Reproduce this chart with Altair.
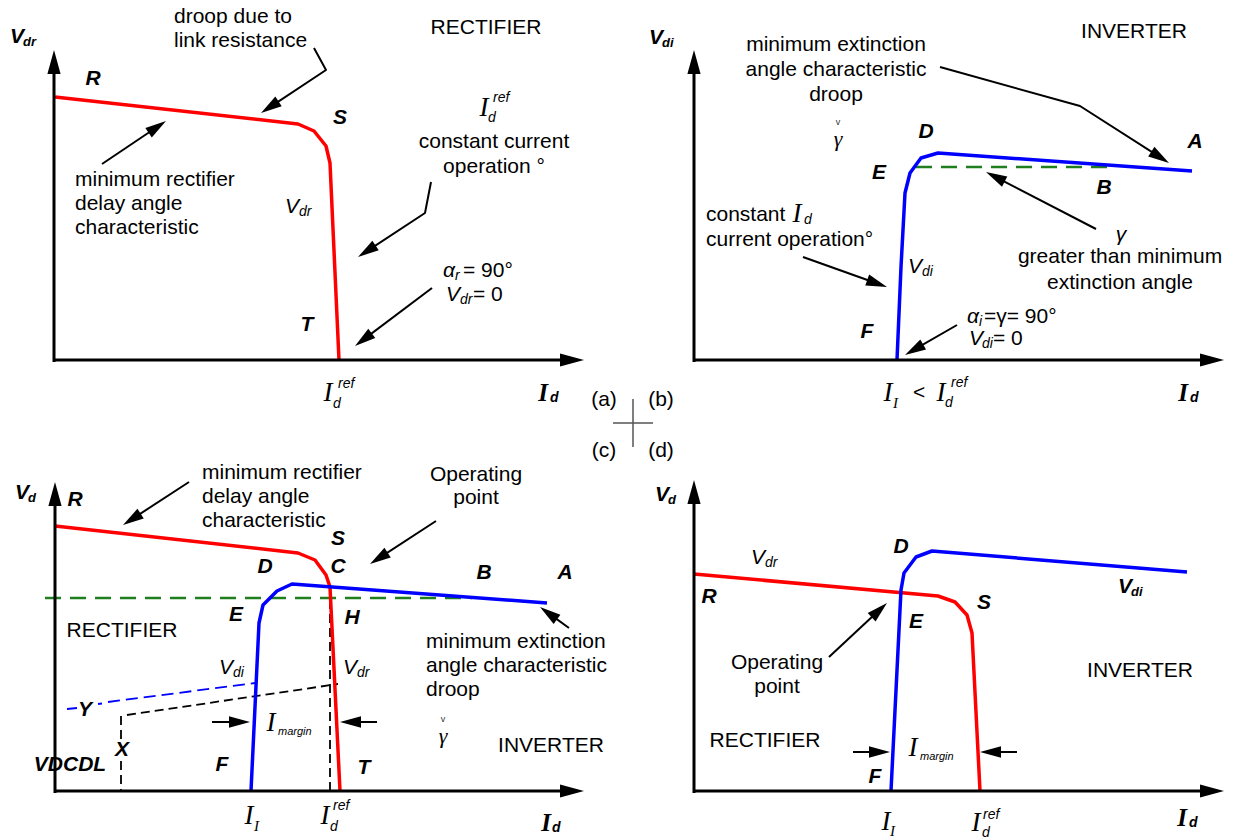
import math
import altair as alt
import pandas as pd

W, H = 1239, 839

# ---------------------------------------------------------------------------
# Characteristic curves, in figure coordinates (x to the right, y downward)
# ---------------------------------------------------------------------------
RECT_A = [(55, 97), (298, 124), (314, 131), (326, 146), (330, 163), (339, 360)]
INV_B = [(897, 360), (901, 267), (905, 193), (910, 173), (921, 158), (938, 153), (1192, 171)]
GAMMA_B = [(916, 167), (1110, 167)]

RECT_C = [(55, 526), (298, 553), (315, 560), (326, 575), (330, 587), (340, 791)]
INV_C = [(251, 791), (259, 623), (263, 605), (277, 591), (292, 584), (547, 603)]
GAMMA_C = [(45, 598), (472, 598)]

RECT_D = [(694, 574), (938, 596), (955, 602), (967, 615), (972, 633), (980, 791)]
INV_D = [(891, 791), (901, 590), (904, 573), (916, 557), (932, 551), (1187, 572)]

# construction lines of panel (c)
BLACK_DASH_C = [
    [(127, 715), (338, 684)],
    [(330, 600), (330, 791)],
    [(121, 716), (121, 739)],
    [(121, 761), (121, 791)],
]
BLUE_DASH_C = [[(108, 702), (255, 683)]]
BLUE_TICKS_C = [[(67, 709), (77, 708)], [(98, 704), (102, 703.5)]]

# axes (drawn as arrows, tip last)
AXES = [
    [(54, 362), (54, 50)], [(53, 360), (584, 360)],
    [(694, 362), (694, 50)], [(693, 360), (1224, 360)],
    [(55, 793), (55, 482)], [(54, 791), (584, 791)],
    [(694, 793), (694, 480)], [(693, 791), (1224, 791)],
]

# annotation pointers (tip last)
POINTERS = [
    [(314, 48), (326, 70), (261, 113)],
    [(102, 164), (166, 121)],
    [(431, 182), (425, 213), (358, 257)],
    [(432, 288), (355, 346)],
    [(940, 67), (1080, 106), (1169, 163)],
    [(803, 257), (887, 287)],
    [(1096, 229), (986, 172)],
    [(957, 325), (905, 355)],
    [(189, 482), (123, 525)],
    [(436, 521), (370, 564)],
    [(569, 628), (540, 607)],
    [(212, 722), (250, 722)],
    [(377, 722), (340, 722)],
    [(829, 657), (887, 603)],
    [(853, 752), (890, 752)],
    [(1017, 752), (980, 752)],
]

CROSS = [[(633, 399), (633, 447)], [(613, 423), (653, 423)]]

# ---------------------------------------------------------------------------
# Text
# ---------------------------------------------------------------------------
PLAIN_CENTER = [
    (486, 28, "RECTIFIER"),
    (494, 142, "constant current"),
    (494, 167, "operation °"),
    (1134, 32, "INVERTER"),
    (836, 45, "minimum extinction"),
    (836, 70, "angle characteristic"),
    (836, 95, "droop"),
    (1120, 257, "greater than minimum"),
    (1120, 283, "extinction angle"),
    (919, 393, "<"),
    (476, 475, "Operating"),
    (476, 498, "point"),
    (122, 631, "RECTIFIER"),
    (551, 746, "INVERTER"),
    (777, 663, "Operating"),
    (777, 687, "point"),
    (765, 741, "RECTIFIER"),
    (1140, 671, "INVERTER"),
    (604, 400, "(a)"),
    (661, 400, "(b)"),
    (604, 451, "(c)"),
    (661, 451, "(d)"),
]
PLAIN_LEFT = [
    (174, 17, "droop due to"),
    (174, 41, "link resistance"),
    (75, 180, "minimum rectifier"),
    (75, 204, "delay angle"),
    (75, 228, "characteristic"),
    (463, 271, "= 90°"),
    (473, 295, "= 0"),
    (706, 215, "constant"),
    (706, 240, "current operation°"),
    (984, 317, "=γ= 90°"),
    (993, 339, "= 0"),
    (202, 473, "minimum rectifier"),
    (202, 497, "delay angle"),
    (202, 521, "characteristic"),
    (426, 642, "minimum extinction"),
    (426, 666, "angle characteristic"),
    (426, 690, "droop"),
]
POINT_LETTERS = [
    (93, 79, "R"), (340, 118, "S"), (307, 325, "T"),
    (926, 132, "D"), (879, 173, "E"), (1195, 142, "A"), (1104, 188, "B"), (867, 332, "F"),
    (75, 500, "R"), (338, 539, "S"), (265, 567, "D"), (338, 567, "C"), (484, 573, "B"),
    (565, 573, "A"), (236, 615, "E"), (352, 618, "H"), (364, 768, "T"), (222, 765, "F"),
    (122, 750, "X"), (85, 710, "Y"), (70, 765, "VDCDL"),
    (901, 547, "D"), (709, 597, "R"), (984, 603, "S"), (916, 622, "E"), (875, 777, "F"),
]
# bold italic voltage symbols and their subscripts
BOLD_V = [(17, 37, "V"), (656, 38, "V"), (22, 493, "V"), (662, 495, "V"), (1125, 587, "V")]
BOLD_V_SUB = [(23, 42, "dr"), (662, 43, "di"), (28, 498, "d"), (668, 500, "d"), (1131, 592, "di")]
# italic voltage / angle symbols and their subscripts
ITALIC_SYM = [
    (292, 207, "V"), (453, 295, "V"), (449, 271, "α"),
    (915, 267, "V"), (976, 339, "V"), (973, 317, "α"),
    (226, 668, "V"), (350, 668, "V"), (758, 558, "V"),
    (1121, 235, "γ"),
]
ITALIC_SUB = [
    (299, 212, "dr"), (460, 300, "dr"), (455, 276, "r"),
    (922, 272, "di"), (982, 344, "di"), (979, 322, "i"),
    (233, 673, "di"), (357, 673, "dr"), (765, 563, "dr"),
]
# current symbols
SERIF_I = [
    (328, 393), (484, 108), (888, 393), (941, 393), (797, 214),
    (249, 816), (325, 816), (271, 723),
    (886, 822), (976, 823), (913, 748),
]
SUP_REF = [(338, 384), (493, 98), (951, 383), (333, 806), (983, 815)]
SUB_D = [(333, 404), (488, 118), (945, 403), (804, 220), (330, 827), (982, 833)]
SUB_I = [(893, 403), (254, 826), (890, 831)]
SUB_MARGIN = [(278, 732), (920, 757)]
AXIS_I = [(543, 393), (1183, 393), (546, 823), (1182, 818)]
AXIS_I_SUB = [(550, 398), (1190, 398), (552, 828), (1189, 823)]
GAMMA_CHECK = [(838, 139), (443, 736)]

# ---------------------------------------------------------------------------
X = alt.X("x:Q", scale=alt.Scale(domain=[0, W], nice=False, zero=False), axis=None)
Y = alt.Y("y:Q", scale=alt.Scale(domain=[0, H], nice=False, zero=False, reverse=True), axis=None)

HEAD_SHAPE = "M0,0 L0.55,2 L-0.55,2 Z"


def path_frame(paths):
    rows = []
    for k, pts in enumerate(paths):
        for i, (x, y) in enumerate(pts):
            rows.append({"x": x, "y": y, "seg": k, "ord": i})
    return pd.DataFrame(rows)


def lines(paths, color, width, dash=None, cap="butt"):
    kw = dict(color=color, strokeWidth=width, strokeCap=cap, strokeJoin="round")
    if dash:
        kw["strokeDash"] = dash
    return alt.Chart(path_frame(paths)).mark_line(**kw).encode(
        x=X, y=Y, detail="seg:N", order="ord:Q"
    )


def arrows(paths, width, head):
    """Shaft pulled back under the head, plus a rotated triangular head."""
    shafts, heads = [], []
    for pts in paths:
        (x0, y0), (x1, y1) = pts[-2], pts[-1]
        dx, dy = x1 - x0, y1 - y0
        n = math.hypot(dx, dy)
        back = head * 0.6
        shafts.append(pts[:-1] + [(x1 - dx / n * back, y1 - dy / n * back)])
        heads.append({"x": x1, "y": y1,
                      "angle": math.degrees(math.atan2(dx, -dy)) % 360})
    shaft = lines(shafts, "black", width)
    tip = alt.Chart(pd.DataFrame(heads)).mark_point(
        shape=HEAD_SHAPE, filled=True, color="black", opacity=1, strokeWidth=0,
        size=head * head,
    ).encode(x=X, y=Y, angle=alt.Angle("angle:Q", scale=None))
    return [shaft, tip]


def texts(rows, size, font="Liberation Sans", style="normal", weight="normal",
          align="center", color="black", label=None):
    if label is not None:
        rows = [(x, y, label) for x, y in rows]
    df = pd.DataFrame(rows, columns=["x", "y", "t"])
    return alt.Chart(df).mark_text(
        font=font, fontSize=size, fontStyle=style, fontWeight=weight,
        align=align, baseline="middle", color=color,
    ).encode(x=X, y=Y, text="t:N")


RED, BLUE, GREEN = "#ff0000", "#0000ff", "#1f7f1f"

layers = [
    lines(CROSS, "#555555", 1.5),
    lines([GAMMA_B, GAMMA_C], GREEN, 2.5, dash=[16, 9]),
    lines(BLACK_DASH_C, "black", 1.8, dash=[9, 5]),
    lines(BLUE_DASH_C, BLUE, 1.8, dash=[12, 6]),
    lines(BLUE_TICKS_C, BLUE, 1.8),
    lines([RECT_A, RECT_C, RECT_D], RED, 3.5),
    lines([INV_B, INV_C, INV_D], BLUE, 3.5),
]
layers += arrows(AXES, 3, 24)
layers += arrows(POINTERS, 2, 21)

layers += [
    texts(PLAIN_CENTER, 21),
    texts(PLAIN_LEFT, 21, align="left"),
    texts(POINT_LETTERS, 21, style="italic", weight="bold"),
    texts(BOLD_V, 21, style="italic", weight="bold"),
    texts(BOLD_V_SUB, 13, style="italic", weight="bold", align="left"),
    texts(ITALIC_SYM, 21, style="italic"),
    texts(ITALIC_SUB, 14, style="italic", align="left"),
    texts(SERIF_I, 27, font="Liberation Serif", style="italic", label="I"),
    texts(SUP_REF, 14, style="italic", align="left", label="ref"),
    texts(SUB_D, 14, style="italic", align="left", label="d"),
    texts(SUB_I, 15, font="Liberation Serif", style="italic", align="left", label="I"),
    texts(SUB_MARGIN, 11, style="italic", align="left", label="margin"),
    texts(AXIS_I, 25, font="Liberation Serif", style="italic", weight="bold", label="I"),
    texts(AXIS_I_SUB, 14, style="italic", weight="bold", align="left", label="d"),
    texts(GAMMA_CHECK, 22, font="Liberation Serif", style="italic", label="γ"),
    texts([(x, y - 17) for x, y in GAMMA_CHECK], 9, color="#333333", label="v"),
]

chart = alt.layer(*layers).properties(
    width=W, height=H, padding=0,
    autosize=alt.AutoSizeParams(type="none"),
    background="white",
).configure_view(stroke=None)

chart.save("out.html", embed_options={"renderer": "svg", "actions": False})
